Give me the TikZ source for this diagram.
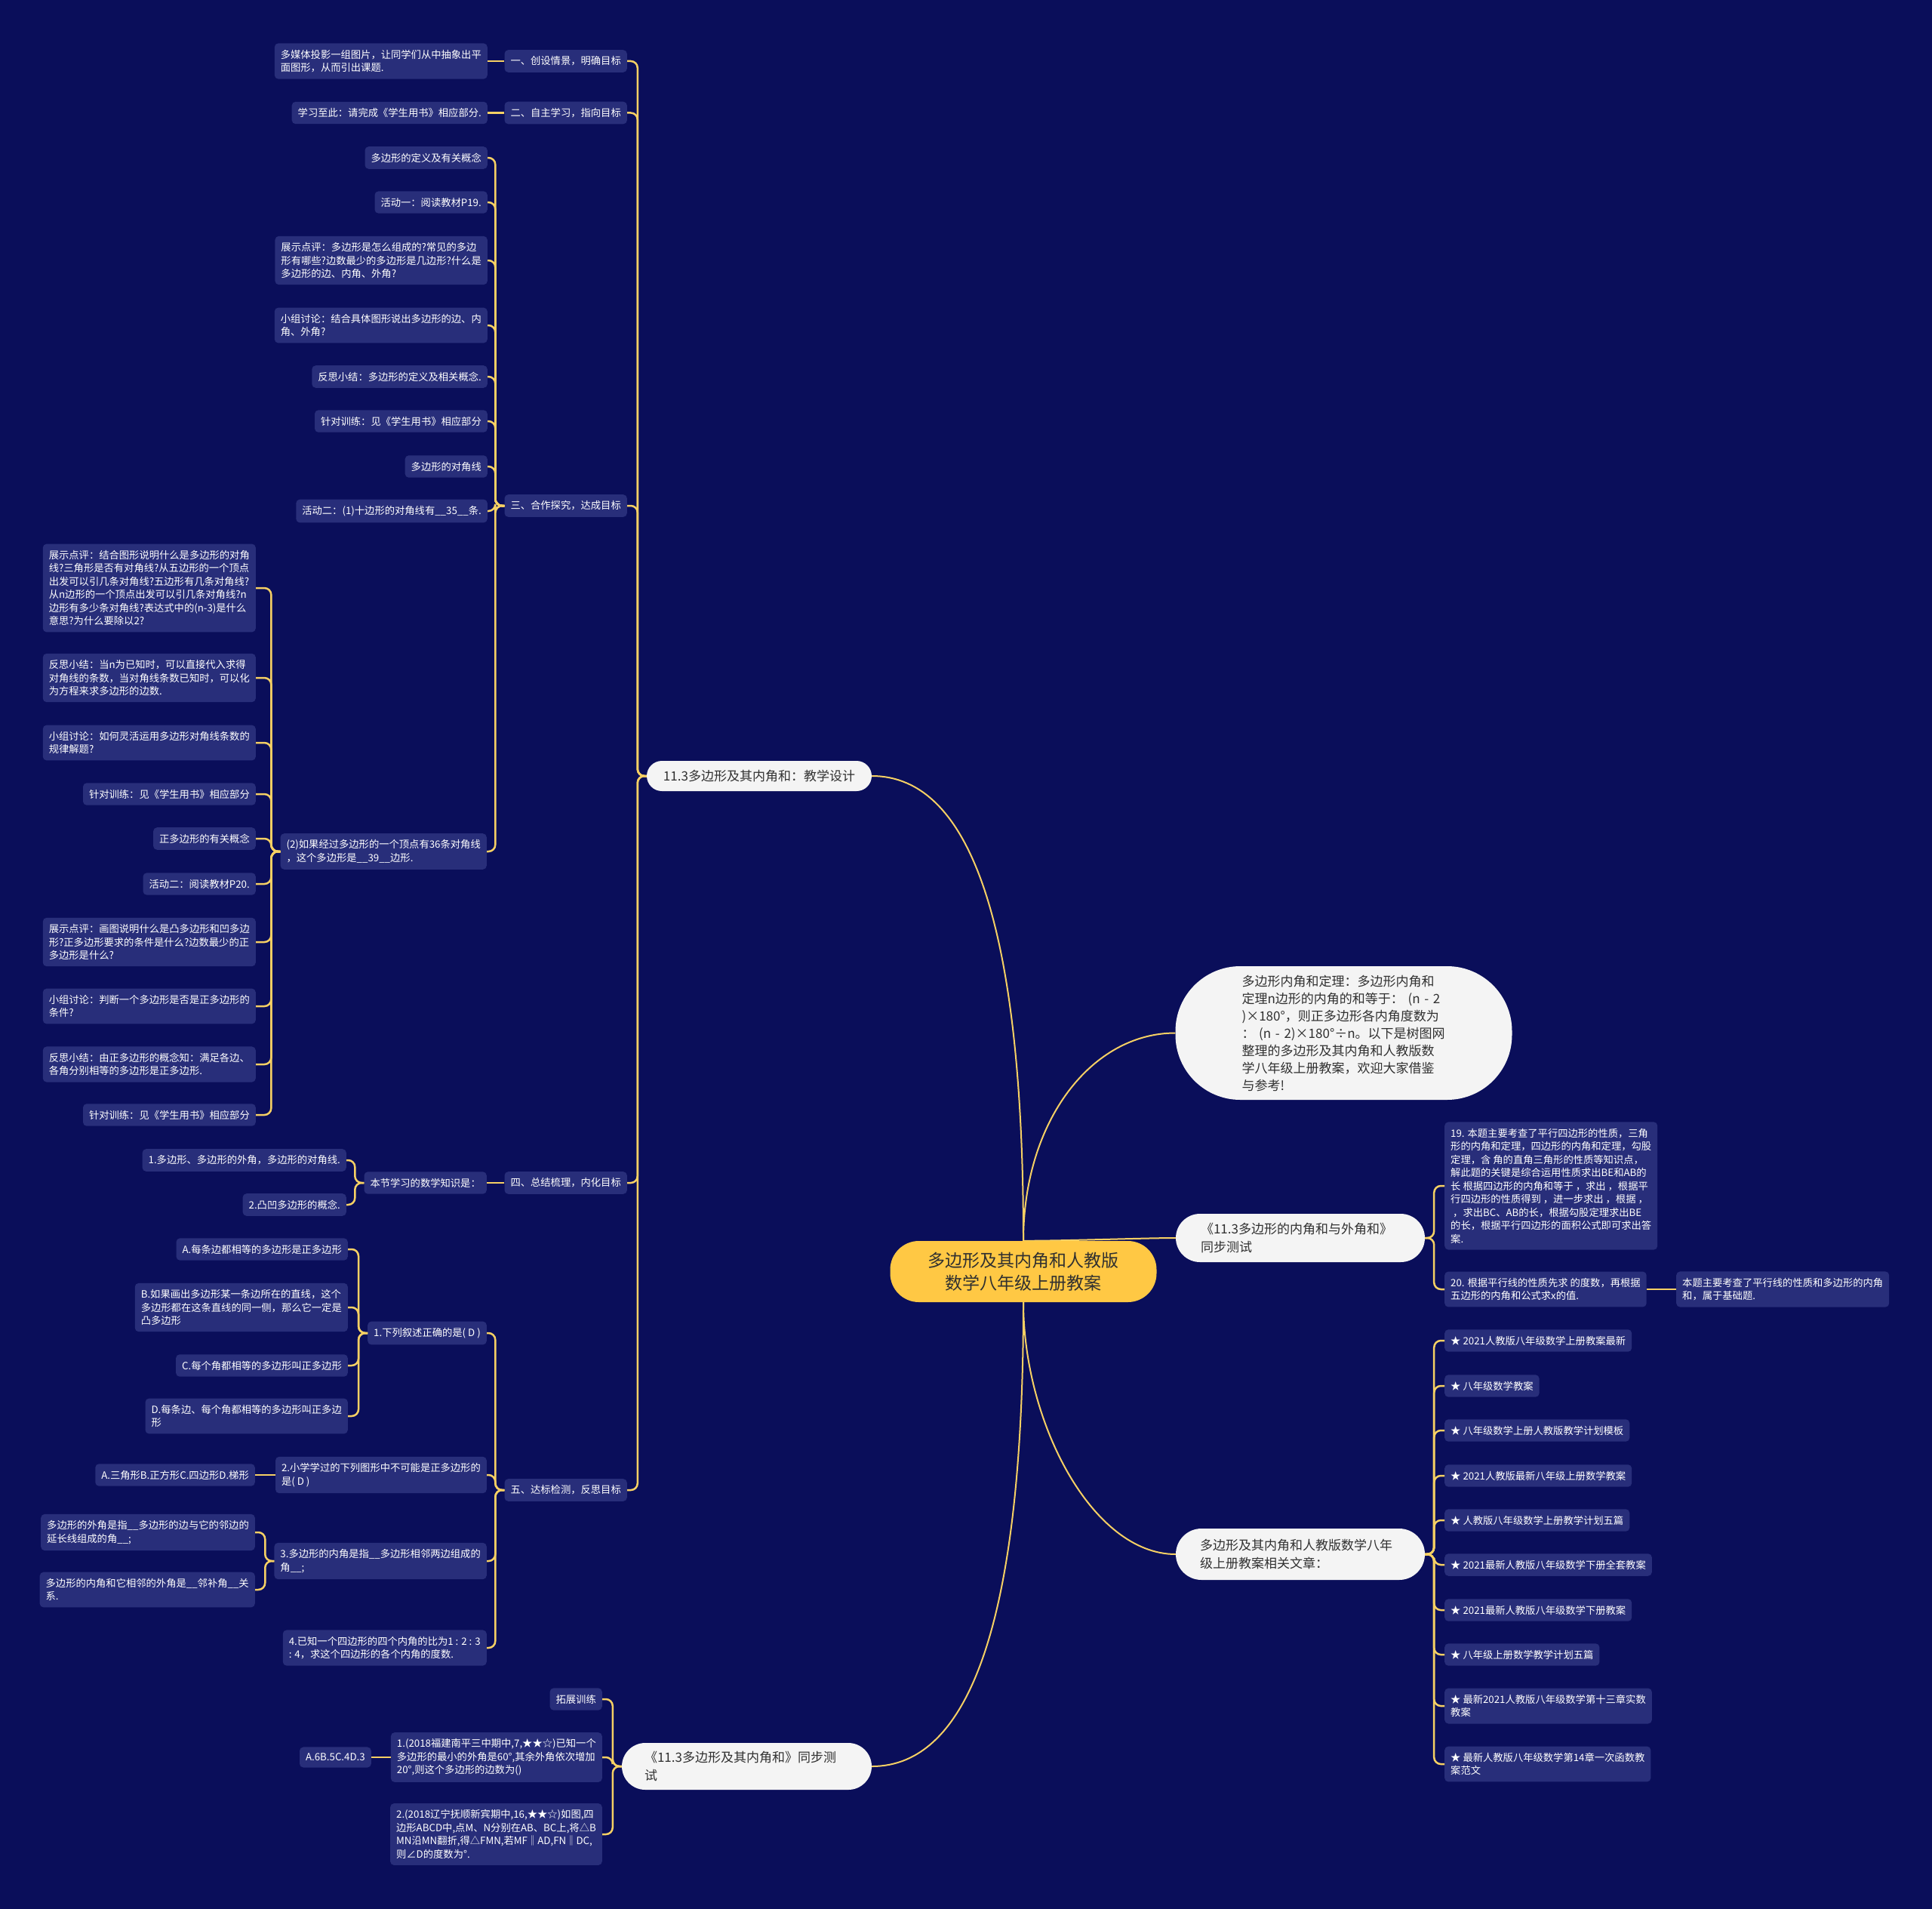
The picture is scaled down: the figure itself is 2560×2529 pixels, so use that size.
\documentclass[tikz,border=0pt]{standalone}
\usepackage{fontspec}
\setmainfont{Noto Sans CJK SC}
\usepackage{xcolor}
\usepackage{tikz}
\usetikzlibrary{
	backgrounds
}
\definecolor{NightBlue}{RGB}{10,14,90}
\definecolor{LeafBlue}{RGB}{40,46,122}
\definecolor{LinkGold}{RGB}{246,208,100}
\definecolor{RootGold}{RGB}{255,200,68}
\definecolor{PillWhite}{RGB}{244,244,244}
\definecolor{InkGray}{RGB}{48,48,48}

\tikzset{
	leaf/.style={fill=LeafBlue, text=white, rounded corners=5pt, align=left,
		inner xsep=8pt, inner ysep=8.5pt, font=\fontsize{13.3}{17.5}\selectfont},
	pill/.style={fill=PillWhite, text=InkGray, rounded corners=#1, align=left,
		font=\fontsize{17}{24}\selectfont},
	pill/.default=18pt,
	link/.style={draw=LinkGold, line width=2.5pt, rounded corners=9pt},
	trunk/.style={draw=LinkGold, line width=2pt}
}

\begin{document}
\begin{tikzpicture}[x=1pt, y=-1pt]
		\useasboundingbox (0,0) rectangle (2560,2529);
		
		% 中心主题
		\node[fill=RootGold, text=InkGray, rounded corners=38pt, minimum width=353pt, minimum height=81pt,
			align=center, font=\fontsize{23}{30}\selectfont] (root) at (1356,1684.5)
			{多边形及其内角和人教版\\数学八年级上册教案};
		
		% 一级分支
		\node[pill=20pt, minimum width=298pt, minimum height=40pt, align=center] (edu) at (1006,1028)
			{11.3多边形及其内角和：教学设计};
		\node[pill=86pt, text width=270pt, inner xsep=88pt, minimum height=177pt, font=\fontsize{17}{23}\selectfont] (thm) at (1780.5,1368.5)
			{多边形内角和定理：多边形内角和\\定理n边形的内角的和等于： (n - 2\\)×180°，则正多边形各内角度数为\\： (n - 2)×180°÷n。以下是树图网\\整理的多边形及其内角和人教版数\\学八年级上册教案，欢迎大家借鉴\\与参考!};
		\node[pill=32pt, text width=264pt, inner xsep=33pt, minimum height=64pt] (ext) at (1723,1640)
			{《11.3多边形的内角和与外角和》\\同步测试};
		\node[pill=34pt, text width=266pt, inner xsep=32pt, minimum height=68pt] (rel) at (1723,2059)
			{多边形及其内角和人教版数学八年\\级上册教案相关文章：};
		\node[pill=31pt, text width=271pt, inner xsep=30pt, minimum height=62pt] (sync) at (989.5,2340)
			{《11.3多边形及其内角和》同步测\\试};
		
		% 教学设计的五个环节
		\node[leaf, anchor=east] (s1) at (831,81) {一、创设情景，明确目标};
		\node[leaf, anchor=east] (s2) at (831,149.5) {二、自主学习，指向目标};
		\node[leaf, anchor=east] (s3) at (831,670) {三、合作探究，达成目标};
		\node[leaf, anchor=east] (s4) at (831,1567) {四、总结梳理，内化目标};
		\node[leaf, anchor=east] (s5) at (831,1974) {五、达标检测，反思目标};
		
		\node[leaf, anchor=east] (a1) at (646,81) {多媒体投影一组图片，让同学们从中抽象出平\\面图形，从而引出课题.};
		\node[leaf, anchor=east] (b1) at (646,149.5) {学习至此：请完成《学生用书》相应部分.};
		
		% 三、合作探究
		\node[leaf, anchor=east] (c1) at (646,209) {多边形的定义及有关概念};
		\node[leaf, anchor=east] (c2) at (646,268) {活动一：阅读教材P19.};
		\node[leaf, anchor=east] (c3) at (646,345) {展示点评：多边形是怎么组成的?常见的多边\\形有哪些?边数最少的多边形是几边形?什么是\\多边形的边、内角、外角?};
		\node[leaf, anchor=east] (c4) at (646,431) {小组讨论：结合具体图形说出多边形的边、内\\角、外角?};
		\node[leaf, anchor=east] (c5) at (646,499) {反思小结：多边形的定义及相关概念.};
		\node[leaf, anchor=east] (c6) at (646,558) {针对训练：见《学生用书》相应部分};
		\node[leaf, anchor=east] (c7) at (646,618) {多边形的对角线};
		\node[leaf, anchor=east] (c8) at (646,677) {活动二：(1)十边形的对角线有\_\_35\_\_条.};
		\node[leaf, anchor=east] (c9) at (645,1128) {(2)如果经过多边形的一个顶点有36条对角线\\，这个多边形是\_\_39\_\_边形.};
		
		\node[leaf, anchor=east] (d1) at (339,779) {展示点评：结合图形说明什么是多边形的对角\\线?三角形是否有对角线?从五边形的一个顶点\\出发可以引几条对角线?五边形有几条对角线?\\从n边形的一个顶点出发可以引几条对角线?n\\边形有多少条对角线?表达式中的(n-3)是什么\\意思?为什么要除以2?};
		\node[leaf, anchor=east] (d2) at (339,898) {反思小结：当n为已知时，可以直接代入求得\\对角线的条数，当对角线条数已知时，可以化\\为方程来求多边形的边数.};
		\node[leaf, anchor=east] (d3) at (339,984) {小组讨论：如何灵活运用多边形对角线条数的\\规律解题?};
		\node[leaf, anchor=east] (d4) at (339,1052) {针对训练：见《学生用书》相应部分};
		\node[leaf, anchor=east] (d5) at (339,1111) {正多边形的有关概念};
		\node[leaf, anchor=east] (d6) at (339,1171) {活动二：阅读教材P20.};
		\node[leaf, anchor=east] (d7) at (339,1248) {展示点评：画图说明什么是凸多边形和凹多边\\形?正多边形要求的条件是什么?边数最少的正\\多边形是什么?};
		\node[leaf, anchor=east] (d8) at (339,1333) {小组讨论：判断一个多边形是否是正多边形的\\条件?};
		\node[leaf, anchor=east] (d9) at (339,1410) {反思小结：由正多边形的概念知：满足各边、\\各角分别相等的多边形是正多边形.};
		\node[leaf, anchor=east] (d10) at (339,1477) {针对训练：见《学生用书》相应部分};
		
		% 四、总结梳理
		\node[leaf, anchor=east] (e1) at (645,1567) {本节学习的数学知识是：};
		\node[leaf, anchor=east] (e2) at (459,1537) {1.多边形、多边形的外角，多边形的对角线.};
		\node[leaf, anchor=east] (e3) at (459,1596) {2.凸凹多边形的概念.};
		
		% 五、达标检测
		\node[leaf, anchor=east] (f1) at (645,1766) {1.下列叙述正确的是( D )};
		\node[leaf, anchor=east] (f2) at (645,1954) {2.小学学过的下列图形中不可能是正多边形的\\是( D )};
		\node[leaf, anchor=east] (f3) at (645,2068) {3.多边形的内角是指\_\_多边形相邻两边组成的\\角\_\_;};
		\node[leaf, anchor=east] (f4) at (645,2183) {4.已知一个四边形的四个内角的比为1 : 2 : 3\\: 4，求这个四边形的各个内角的度数.};
		
		\node[leaf, anchor=east] (g1) at (461,1655) {A.每条边都相等的多边形是正多边形};
		\node[leaf, anchor=east] (g2) at (461,1732) {B.如果画出多边形某一条边所在的直线，这个\\多边形都在这条直线的同一侧，那么它一定是\\凸多边形};
		\node[leaf, anchor=east] (g3) at (461,1809) {C.每个角都相等的多边形叫正多边形};
		\node[leaf, anchor=east] (g4) at (461,1876) {D.每条边、每个角都相等的多边形叫正多边\\形};
		\node[leaf, anchor=east] (h1) at (338,1954) {A.三角形B.正方形C.四边形D.梯形};
		\node[leaf, anchor=east] (i1) at (338,2030) {多边形的外角是指\_\_多边形的边与它的邻边的\\延长线组成的角\_\_;};
		\node[leaf, anchor=east] (i2) at (338,2106) {多边形的内角和它相邻的外角是\_\_邻补角\_\_关\\系.};
		
		% 同步测试
		\node[leaf, anchor=east] (j1) at (798,2251) {拓展训练};
		\node[leaf, anchor=east] (j2) at (798,2328) {1.(2018福建南平三中期中,7,★★☆)已知一个\\多边形的最小的外角是60°,其余外角依次增加\\20°,则这个多边形的边数为()};
		\node[leaf, anchor=east] (j3) at (798,2430) {2.(2018辽宁抚顺新宾期中,16,★★☆)如图,四\\边形ABCD中,点M、N分别在AB、BC上,将△B\\MN沿MN翻折,得△FMN,若MF‖AD,FN‖DC,\\则∠D的度数为°.};
		\node[leaf, anchor=east] (k1) at (492,2328) {A.6B.5C.4D.3};
		
		% 右侧
		\node[leaf, anchor=west] (r19) at (1914,1571) {19. 本题主要考查了平行四边形的性质，三角\\形的内角和定理，四边形的内角和定理，勾股\\定理，含 角的直角三角形的性质等知识点，\\解此题的关键是综合运用性质求出BE和AB的\\长 根据四边形的内角和等于 ，求出 ，根据平\\行四边形的性质得到 ，进一步求出 ，根据 ，\\~，求出BC、AB的长，根据勾股定理求出BE\\的长，根据平行四边形的面积公式即可求出答\\案.};
		\node[leaf, anchor=west] (r20) at (1914,1708) {20. 根据平行线的性质先求 的度数，再根据\\五边形的内角和公式求x的值.};
		\node[leaf, anchor=west] (r21) at (2221,1708) {本题主要考查了平行线的性质和多边形的内角\\和，属于基础题.};
		
		\node[leaf, anchor=west] (l1) at (1914,1776) {★ 2021人教版八年级数学上册教案最新};
		\node[leaf, anchor=west] (l2) at (1914,1836) {★ 八年级数学教案};
		\node[leaf, anchor=west] (l3) at (1914,1895) {★ 八年级数学上册人教版教学计划模板};
		\node[leaf, anchor=west] (l4) at (1914,1955) {★ 2021人教版最新八年级上册数学教案};
		\node[leaf, anchor=west] (l5) at (1914,2014) {★ 人教版八年级数学上册教学计划五篇};
		\node[leaf, anchor=west] (l6) at (1914,2073) {★ 2021最新人教版八年级数学下册全套教案};
		\node[leaf, anchor=west] (l7) at (1914,2133) {★ 2021最新人教版八年级数学下册教案};
		\node[leaf, anchor=west] (l8) at (1914,2192) {★ 八年级上册数学教学计划五篇};
		\node[leaf, anchor=west] (l9) at (1914,2260) {★ 最新2021人教版八年级数学第十三章实数\\教案};
		\node[leaf, anchor=west] (l10) at (1914,2337) {★ 最新人教版八年级数学第14章一次函数教\\案范文};
		
		% 分支连线
		\foreach \k in {1,...,5} \draw[link] (edu.west) -- ++(-12,0) |- (s\k.east);
		\draw[link] (s1.west) -- (a1.east);
		\draw[link] (s2.west) -- (b1.east);
		\foreach \k in {1,...,9} \draw[link] (s3.west) -- ++(-12,0) |- (c\k.east);
		\foreach \k in {1,...,10} \draw[link] (c9.west) -- ++(-12,0) |- (d\k.east);
		\draw[link] (s4.west) -- (e1.east);
		\foreach \k in {2,3} \draw[link] (e1.west) -- ++(-12,0) |- (e\k.east);
		\foreach \k in {1,...,4} \draw[link] (s5.west) -- ++(-12,0) |- (f\k.east);
		\foreach \k in {1,...,4} \draw[link] (f1.west) -- ++(-12,0) |- (g\k.east);
		\draw[link] (f2.west) -- (h1.east);
		\foreach \k in {1,2} \draw[link] (f3.west) -- ++(-12,0) |- (i\k.east);
		\foreach \k in {1,2,3} \draw[link] (sync.west) -- ++(-12,0) |- (j\k.east);
		\draw[link] (j2.west) -- (k1.east);
		\draw[link] (ext.east) -- ++(12,0) |- (r19.west);
		\draw[link] (ext.east) -- ++(12,0) |- (r20.west);
		\draw[link] (r20.east) -- (r21.west);
		\foreach \k in {1,...,10} \draw[link] (rel.east) -- ++(12,0) |- (l\k.west);
		
		% 背景与主干
		\begin{scope}[on background layer]
			\fill[NightBlue] (0,0) rectangle (2560,2529);
			\draw[trunk] (root.north) .. controls +(0,-420) and +(130,0) .. (edu.east);
			\draw[trunk] (root.north) .. controls +(0,-160) and +(-110,0) .. (thm.west);
			\draw[trunk] (root.north) .. controls +(60,0) and +(-40,0) .. (ext.west);
			\draw[trunk] (root.south) .. controls +(0,160) and +(-110,0) .. (rel.west);
			\draw[trunk] (root.south) .. controls +(0,420) and +(130,0) .. (sync.east);
		\end{scope}
	\end{tikzpicture}
\end{document}
